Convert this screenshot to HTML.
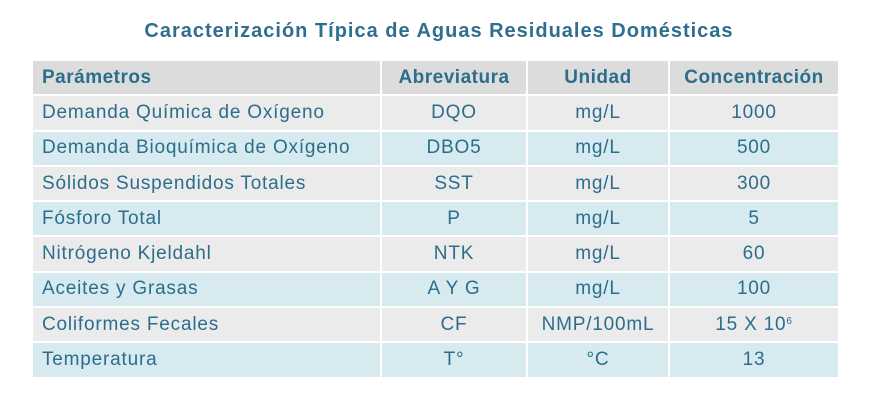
<!DOCTYPE html>
<html><head><meta charset="utf-8"><style>
body{margin:0;width:871px;height:417px;background:#fff;font-family:"Liberation Sans",sans-serif;color:#2b6e8c;overflow:hidden}
h1{position:absolute;top:20px;left:0;width:878px;margin:0;text-align:center;font-size:20px;font-weight:bold;color:#2f6f8d;letter-spacing:1px}
.t{position:absolute;left:33px;top:61px}
.r{display:flex;height:33.3px;margin-bottom:2px}
.c{height:100%;display:flex;align-items:center;justify-content:center;font-size:19px;letter-spacing:0.8px;margin-right:2px;white-space:nowrap}
.c:first-child{justify-content:flex-start;padding-left:9px;box-sizing:border-box}
.c:last-child{margin-right:0}
.h .c{background:#dcdcdc;font-weight:bold;height:33px;letter-spacing:0.5px}
.o .c{background:#ebebeb}
.e .c{background:#d7eaf0}
.w1{width:347px}.w2{width:144px}.w3{width:140px}.w4{width:168px}
sup{font-size:10px;position:relative;top:-3px}
</style></head><body>
<h1>Caracterización Típica de Aguas Residuales Domésticas</h1>
<div class="t">
<div class="r h"><div class="c w1">Parámetros</div><div class="c w2">Abreviatura</div><div class="c w3">Unidad</div><div class="c w4">Concentración</div></div>
<div class="r o"><div class="c w1">Demanda Química de Oxígeno</div><div class="c w2">DQO</div><div class="c w3">mg/L</div><div class="c w4">1000</div></div>
<div class="r e"><div class="c w1">Demanda Bioquímica de Oxígeno</div><div class="c w2">DBO5</div><div class="c w3">mg/L</div><div class="c w4">500</div></div>
<div class="r o"><div class="c w1">Sólidos Suspendidos Totales</div><div class="c w2">SST</div><div class="c w3">mg/L</div><div class="c w4">300</div></div>
<div class="r e"><div class="c w1">Fósforo Total</div><div class="c w2">P</div><div class="c w3">mg/L</div><div class="c w4">5</div></div>
<div class="r o"><div class="c w1">Nitrógeno Kjeldahl</div><div class="c w2">NTK</div><div class="c w3">mg/L</div><div class="c w4">60</div></div>
<div class="r e"><div class="c w1">Aceites y Grasas</div><div class="c w2">A Y G</div><div class="c w3">mg/L</div><div class="c w4">100</div></div>
<div class="r o"><div class="c w1">Coliformes Fecales</div><div class="c w2">CF</div><div class="c w3">NMP/100mL</div><div class="c w4">15 X 10<sup>6</sup></div></div>
<div class="r e"><div class="c w1">Temperatura</div><div class="c w2">T°</div><div class="c w3">°C</div><div class="c w4">13</div></div>
</div>
</body></html>
